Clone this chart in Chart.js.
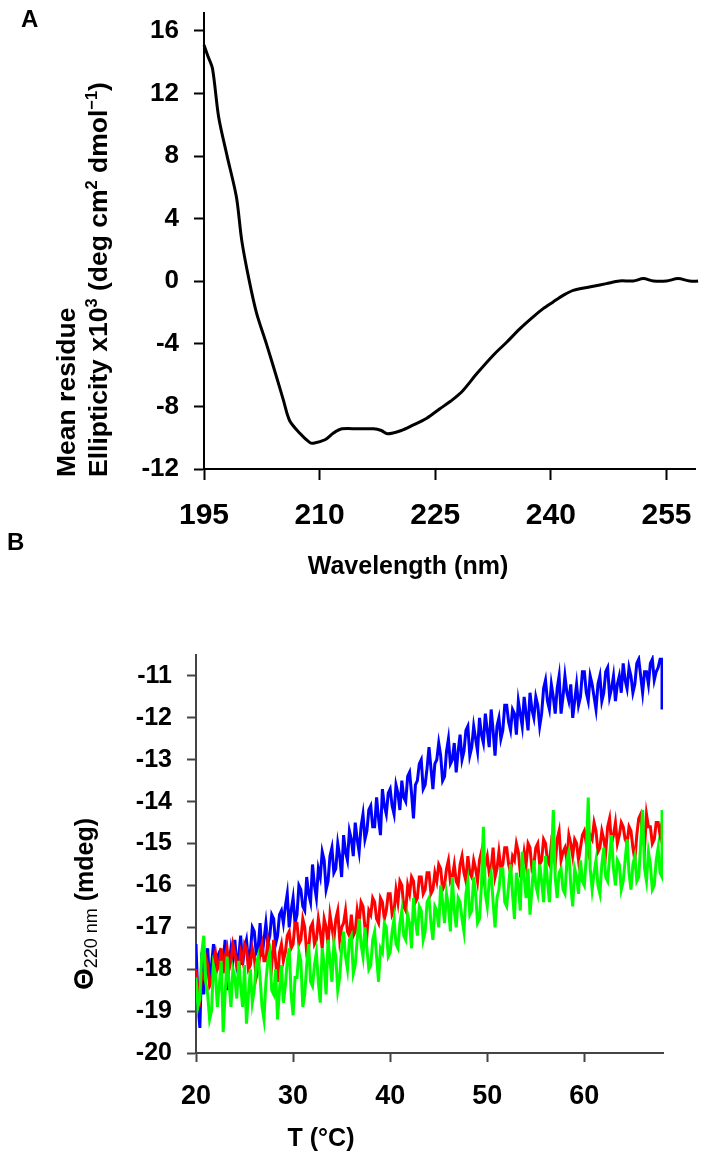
<!DOCTYPE html>
<html><head><meta charset="utf-8">
<script src="https://cdn.jsdelivr.net/npm/chart.js@4.4.0/dist/chart.umd.min.js"></script>
<style>
html,body{margin:0;padding:0;background:#fff;}
body{width:714px;height:1160px;position:relative;overflow:hidden;font-family:"Liberation Sans",Arial,Helvetica,sans-serif;}
canvas{position:absolute;left:0;}
.t{position:absolute;font-weight:bold;line-height:1;white-space:nowrap;color:#000;}
.rot{transform-origin:0 0;transform:rotate(-90deg);}
sup{font-size:0.62em;vertical-align:0.6em;line-height:0;}
</style></head>
<body>
<canvas id="cA" width="714" height="580" style="top:0"></canvas>
<canvas id="cB" width="714" height="580" style="top:580px"></canvas>
<div class="t" style="left:21px;top:7px;font-size:24px">A</div>
<div class="t" style="left:7px;top:530px;font-size:24px">B</div>
<div class="t rot" style="left:53px;top:477px;font-size:26.5px">Mean residue</div>
<div class="t rot" style="left:85px;top:477px;font-size:26.5px">Ellipticity x10<sup>3</sup> (deg cm<sup>2</sup> dmol<sup>−1</sup>)</div>
<div class="t" style="left:208px;width:400px;text-align:center;top:553px;font-size:25px">Wavelength (nm)</div>
<div class="t rot" style="left:70px;top:990px;font-size:25px"><span style="font-size:28px">Θ</span><span style="font-size:18px;font-weight:normal;position:relative;top:4px">220 nm</span> (mdeg)</div>
<div class="t" style="left:121px;width:400px;text-align:center;top:1125px;font-size:25px">T (°C)</div>
<script>
// ---------- Panel A: CD spectrum ----------
const wavelengths=[195,195.5,196.1,196.9,198.0,199.2,199.9,200.8,201.8,203.1,204.4,205.3,206.1,207.4,208.7,209.2,210.7,211.8,212.9,215.0,217.0,218.0,218.8,220.6,222.1,223.9,225.6,227.3,228.6,230.4,232.5,234.3,236.0,237.7,239.0,240.3,241.6,242.9,245.5,247.2,248.9,250.7,252.0,253.3,255.0,256.5,258.0,259.1,260.1];
const ellipticity=[15.1,14.4,13.6,10.5,8.0,5.4,2.6,0.2,-2.0,-4.0,-6.1,-7.6,-8.9,-9.7,-10.3,-10.35,-10.13,-9.7,-9.43,-9.43,-9.43,-9.54,-9.75,-9.54,-9.2,-8.75,-8.15,-7.55,-6.98,-5.9,-4.74,-3.88,-3.03,-2.28,-1.75,-1.32,-0.9,-0.58,-0.32,-0.15,0.02,0.02,0.17,0.02,0.02,0.17,0.02,0.02,0.17];
const xTicksA=[195,210,225,240,255];
const yTicksA=[-12,-8,-4,0,4,8,12,16];

// ---------- Panel B: thermal melts at 220 nm ----------
const temps=[
20.0,20.2,20.4,20.6,20.8,21.0,21.2,21.4,21.6,21.8,22.0,22.2,22.4,22.6,22.8,23.0,23.2,23.4,23.6,23.8,
24.0,24.2,24.4,24.6,24.8,25.0,25.2,25.4,25.6,25.8,26.0,26.2,26.4,26.6,26.8,27.0,27.2,27.4,27.6,27.8,
28.0,28.2,28.4,28.6,28.8,29.0,29.2,29.4,29.6,29.8,30.0,30.2,30.4,30.6,30.8,31.0,31.2,31.4,31.6,31.8,
32.0,32.2,32.4,32.6,32.8,33.0,33.2,33.4,33.6,33.8,34.0,34.2,34.4,34.6,34.8,35.0,35.2,35.4,35.6,35.8,
36.0,36.2,36.4,36.6,36.8,37.0,37.2,37.4,37.6,37.8,38.0,38.2,38.4,38.6,38.8,39.0,39.2,39.4,39.6,39.8,
40.0,40.2,40.4,40.6,40.8,41.0,41.2,41.4,41.6,41.8,42.0,42.2,42.4,42.6,42.8,43.0,43.2,43.4,43.6,43.8,
44.0,44.2,44.4,44.6,44.8,45.0,45.2,45.4,45.6,45.8,46.0,46.2,46.4,46.6,46.8,47.0,47.2,47.4,47.6,47.8,
48.0,48.2,48.4,48.6,48.8,49.0,49.2,49.4,49.6,49.8,50.0,50.2,50.4,50.6,50.8,51.0,51.2,51.4,51.6,51.8,
52.0,52.2,52.4,52.6,52.8,53.0,53.2,53.4,53.6,53.8,54.0,54.2,54.4,54.6,54.8,55.0,55.2,55.4,55.6,55.8,
56.0,56.2,56.4,56.6,56.8,57.0,57.2,57.4,57.6,57.8,58.0,58.2,58.4,58.6,58.8,59.0,59.2,59.4,59.6,59.8,
60.0,60.2,60.4,60.6,60.8,61.0,61.2,61.4,61.6,61.8,62.0,62.2,62.4,62.6,62.8,63.0,63.2,63.4,63.6,63.8,
64.0,64.2,64.4,64.6,64.8,65.0,65.2,65.4,65.6,65.8,66.0,66.2,66.4,66.6,66.8,67.0,67.2,67.4,67.6,67.8,
68.0,68.0];
const blueSeries=[
-17.4,-18.8,-19.4,-17.6,-18.6,-17.9,-17.5,-18.3,-17.9,-17.4,-18.2,-17.7,-17.6,-18.0,-17.8,-17.3,-18.5,-17.9,-17.5,-17.8,
-17.3,-17.9,-17.7,-17.2,-17.9,-17.5,-17.3,-17.8,-17.6,-17.0,-17.1,-17.6,-17.5,-16.9,-17.7,-17.3,-16.9,-17.4,-17.2,-16.7,
-16.8,-17.4,-17.2,-16.7,-16.6,-16.9,-16.5,-16.2,-17.0,-16.6,-16.3,-16.9,-16.7,-16.0,-16.1,-16.5,-16.6,-15.8,-16.2,-16.4,
-15.5,-16.0,-16.3,-15.6,-15.8,-15.2,-15.4,-16.1,-15.9,-15.3,-15.1,-15.7,-15.6,-15.0,-15.3,-15.8,-14.8,-15.2,-15.4,-14.7,
-14.9,-15.3,-14.5,-14.9,-15.2,-14.6,-14.3,-14.9,-14.7,-14.2,-14.1,-14.6,-14.6,-13.9,-14.4,-14.8,-13.7,-14.1,-14.3,-13.8,
-13.7,-14.1,-14.3,-13.6,-13.8,-14.2,-13.5,-13.9,-14.0,-13.4,-13.3,-13.8,-14.4,-13.6,-13.5,-13.1,-13.0,-13.7,-13.6,-13.2,
-12.7,-13.2,-13.7,-13.1,-13.0,-12.6,-12.9,-13.5,-13.4,-12.8,-12.5,-13.1,-13.0,-12.6,-13.3,-12.8,-12.4,-13.0,-12.8,-12.3,
-12.2,-12.9,-12.7,-12.2,-12.5,-12.8,-12.0,-12.4,-12.6,-11.9,-12.3,-12.7,-11.8,-12.3,-12.9,-12.2,-12.0,-12.5,-12.3,-11.7,
-11.7,-12.1,-12.3,-11.8,-11.9,-12.4,-11.6,-11.9,-12.2,-11.5,-11.9,-12.3,-11.4,-11.8,-12.0,-11.5,-11.7,-12.2,-11.9,-11.3,
-11.1,-11.6,-11.8,-11.2,-11.5,-11.9,-11.3,-11.0,-11.9,-11.5,-11.0,-11.4,-11.6,-11.2,-12.0,-11.6,-11.2,-11.7,-11.5,-10.9,
-10.9,-11.4,-11.6,-11.0,-11.2,-11.5,-11.8,-11.2,-11.0,-11.6,-11.4,-10.9,-10.8,-11.5,-11.3,-11.0,-11.6,-11.2,-11.0,-11.4,
-10.7,-11.1,-11.3,-10.8,-11.0,-11.4,-11.2,-10.7,-10.6,-11.0,-11.4,-10.9,-10.9,-11.2,-10.7,-10.6,-11.1,-10.9,-10.8,-10.6,
-10.6,-11.8];
const redSeries=[
-18.0,-18.5,-18.7,-18.1,-18.2,-17.7,-17.9,-18.4,-18.3,-17.8,-17.6,-18.0,-17.9,-17.5,-18.1,-17.7,-17.5,-18.0,-17.8,-17.4,
-17.6,-17.9,-18.1,-17.6,-17.8,-17.4,-17.5,-18.0,-17.9,-17.5,-17.7,-18.2,-18.0,-17.6,-17.4,-17.8,-17.8,-17.3,-17.6,-17.9,
-17.3,-17.8,-18.3,-17.6,-17.4,-17.8,-17.6,-17.2,-17.1,-17.5,-17.4,-16.9,-16.9,-17.4,-17.3,-16.8,-17.0,-17.6,-17.5,-17.0,
-16.9,-17.4,-17.3,-16.8,-17.1,-17.5,-16.8,-17.0,-17.4,-16.7,-17.0,-17.3,-16.8,-16.6,-17.3,-17.0,-16.9,-16.6,-17.1,-17.2,
-16.7,-17.2,-17.1,-16.6,-16.9,-16.4,-16.5,-17.0,-17.2,-16.6,-16.7,-16.3,-16.4,-16.8,-16.9,-16.3,-16.4,-16.8,-16.6,-16.2,
-16.2,-16.7,-16.6,-16.1,-16.4,-15.9,-16.0,-16.5,-16.6,-16.0,-16.2,-15.8,-15.9,-16.4,-16.3,-15.8,-15.8,-16.2,-16.1,-15.7,
-15.7,-16.2,-16.1,-15.7,-15.9,-15.5,-15.6,-16.1,-16.0,-15.6,-15.4,-15.9,-15.8,-15.5,-15.9,-16.0,-15.5,-15.3,-15.7,-15.9,
-15.3,-15.7,-15.8,-15.4,-15.6,-15.9,-15.4,-15.2,-15.8,-15.5,-15.3,-15.7,-15.6,-15.1,-15.8,-15.6,-15.2,-15.6,-15.5,-15.1,
-15.1,-15.5,-15.7,-15.3,-15.4,-15.0,-15.2,-15.7,-15.6,-15.2,-15.5,-15.0,-15.1,-15.6,-15.5,-15.1,-15.0,-15.5,-15.4,-14.9,
-15.0,-15.4,-15.5,-15.0,-15.2,-15.5,-14.9,-14.7,-15.4,-15.2,-15.1,-15.4,-14.8,-15.0,-15.3,-14.9,-15.0,-15.4,-15.1,-14.8,
-14.7,-15.0,-15.2,-14.8,-14.9,-14.5,-14.7,-15.2,-15.1,-14.7,-14.9,-15.2,-14.6,-14.4,-15.0,-14.8,-14.5,-15.0,-14.8,-14.5,
-14.6,-14.9,-15.0,-14.6,-14.7,-15.1,-15.4,-14.8,-14.4,-14.3,-14.8,-15.1,-14.3,-14.6,-14.6,-15.0,-14.9,-14.5,-14.5,-14.8,
-14.5,-14.7];
const greenSeries=[
-18.2,-18.9,-18.7,-17.6,-17.2,-18.3,-18.6,-19.2,-19.0,-17.9,-18.1,-18.9,-18.4,-17.8,-19.5,-18.6,-17.7,-18.3,-18.9,-18.0,
-18.2,-18.7,-17.8,-18.4,-18.9,-17.9,-19.3,-18.6,-18.0,-18.8,-18.5,-17.9,-17.7,-18.2,-18.9,-19.2,-18.3,-17.8,-17.6,-18.5,
-18.6,-18.0,-19.2,-18.5,-17.9,-18.8,-18.4,-17.8,-17.5,-18.6,-19.1,-18.2,-18.2,-17.6,-17.8,-18.9,-18.6,-17.9,-17.4,-18.3,
-18.4,-17.9,-17.6,-18.3,-18.8,-17.5,-17.9,-18.6,-17.3,-17.8,-18.3,-17.4,-17.7,-18.5,-18.2,-17.5,-17.1,-17.7,-18.0,-17.3,
-17.2,-18.1,-17.9,-17.3,-16.8,-17.4,-17.7,-17.0,-17.5,-18.0,-17.9,-17.3,-17.1,-17.7,-18.3,-17.5,-17.6,-16.9,-17.0,-17.7,
-17.6,-17.1,-16.8,-17.4,-17.5,-16.9,-16.6,-17.2,-17.3,-16.7,-16.9,-17.5,-16.3,-16.8,-17.2,-16.5,-16.6,-17.3,-17.1,-16.4,
-16.3,-16.9,-17.3,-16.5,-16.6,-17.0,-16.0,-16.4,-16.9,-16.2,-16.5,-17.1,-15.8,-16.6,-17.0,-16.3,-16.4,-16.8,-17.1,-16.2,
-15.9,-16.7,-16.6,-15.8,-16.2,-16.9,-16.8,-16.0,-14.6,-16.2,-16.5,-15.9,-15.7,-16.4,-17.0,-16.3,-16.1,-15.6,-15.6,-16.4,
-16.5,-16.0,-15.5,-16.2,-16.8,-15.7,-16.0,-16.6,-15.2,-15.8,-16.3,-15.6,-16.7,-16.1,-15.4,-16.0,-16.2,-15.5,-15.9,-16.4,
-15.3,-15.9,-16.4,-15.5,-14.2,-15.8,-16.3,-15.7,-15.6,-16.1,-16.2,-15.4,-15.2,-16.0,-16.5,-15.6,-15.8,-16.2,-15.4,-15.9,
-16.0,-15.3,-13.9,-15.6,-16.1,-15.7,-15.4,-16.0,-16.2,-15.5,-15.1,-15.8,-15.9,-15.3,-14.8,-15.6,-16.0,-15.4,-15.5,-16.1,
-15.9,-15.4,-14.9,-15.7,-16.1,-15.5,-15.3,-15.9,-15.8,-15.0,-14.2,-15.6,-15.9,-15.2,-15.5,-16.1,-16.0,-15.4,-15.1,-15.7,
-15.8,-14.2];
const xTicksB=[20,30,40,50,60];
const yTicksB=[-20,-19,-18,-17,-16,-15,-14,-13,-12,-11];

const FONT='"Liberation Sans", Arial, Helvetica, sans-serif';
function pts(xs,ys){return xs.map((x,i)=>({x:x,y:ys[i]}));}

function scale(o){
  return {
    type:'linear', min:o.min, max:o.max,
    afterBuildTicks:s=>{s.ticks=o.ticks.map(v=>({value:v}));},
    afterFit:s=>{
      if(o.width!==undefined){s.width=o.width;}
      if(o.height!==undefined){s.height=o.height;}
      s.paddingTop=0;s.paddingBottom=0;s.paddingLeft=0;s.paddingRight=0;
    },
    grid:{display:true,drawOnChartArea:false,drawTicks:true,tickLength:o.tickLength,tickColor:o.color,tickWidth:2},
    border:{display:true,color:o.color,width:2},
    ticks:{color:'#000',font:{family:FONT,size:o.fontSize,weight:'bold'},padding:o.pad,maxRotation:0,minRotation:0,autoSkip:false,
      callback:v=>String(v)}
  };
}

const common={
  responsive:false, animation:false, devicePixelRatio:1,
  plugins:{legend:{display:false},tooltip:{enabled:false}},
  elements:{point:{radius:0}}
};

new Chart(document.getElementById('cA'),{
  type:'line',
  data:{datasets:[{data:pts(wavelengths,ellipticity),borderColor:'#000',borderWidth:3,tension:0.3,fill:false,clip:false}]},
  options:Object.assign({},common,{
    layout:{padding:{left:0,top:13,right:19,bottom:0}},
    scales:{
      x:scale({min:195,max:258.7,ticks:xTicksA,height:111,tickLength:11,color:'#000',fontSize:30,pad:18}),
      y:scale({min:-12,max:17.15,ticks:yTicksA,width:204,tickLength:10,color:'#000',fontSize:26,pad:15})
    }
  })
});

new Chart(document.getElementById('cB'),{
  type:'line',
  data:{datasets:[
    {label:'green',data:pts(temps,greenSeries),borderColor:'#00FF00',borderWidth:3,tension:0,fill:false,order:0},
    {label:'red',data:pts(temps,redSeries),borderColor:'#FF0000',borderWidth:3,tension:0,fill:false,order:1},
    {label:'blue',data:pts(temps,blueSeries),borderColor:'#0000FF',borderWidth:3,tension:0,fill:false,order:2}
  ]},
  options:Object.assign({},common,{
    layout:{padding:{left:0,top:75,right:51,bottom:0}},
    scales:{
      x:scale({min:20,max:68.1,ticks:xTicksB,height:107,tickLength:9,color:'#444',fontSize:27,pad:18}),
      y:scale({min:-20,max:-10.5,ticks:yTicksB,width:196,tickLength:9,color:'#444',fontSize:25,pad:15})
    }
  })
});
</script>
</body></html>
